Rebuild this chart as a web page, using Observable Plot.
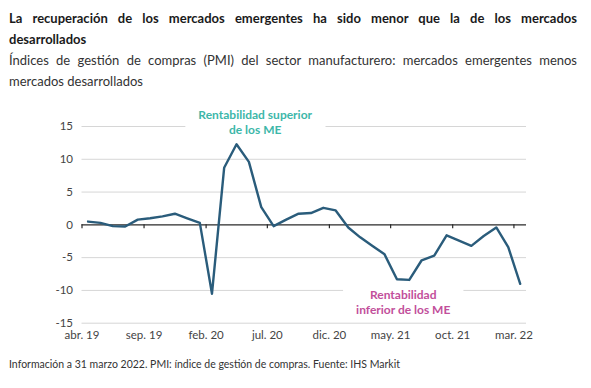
<!DOCTYPE html>
<html>
<head>
<meta charset="utf-8">
<script src="https://cdn.jsdelivr.net/npm/d3@7"></script>
<script src="https://cdn.jsdelivr.net/npm/@observablehq/plot@0.6"></script>
<style>
  html, body { margin: 0; padding: 0; background: #fff; width: 591px; height: 388px; overflow: hidden; }
  #header { position: absolute; left: 9px; top: 8px; width: 568px; font-family: Lato, "Open Sans", sans-serif; color: #1a1a1a; }
  #title { font-size: 13px; font-weight: 700; line-height: 21px; }
  #subtitle { font-size: 13px; font-weight: 400; line-height: 21px; color: #333; margin-top: 0px; }
  .j { text-align: justify; text-align-last: justify; }
  #chart { position: absolute; left: 0; top: 95px; }
  #note { position: absolute; left: 9px; top: 358px; font-family: Lato, "Open Sans", sans-serif; font-size: 10.5px; color: #333; }
</style>
</head>
<body>
<div id="header">
  <div id="title"><div class="j">La recuperación de los mercados emergentes ha sido menor que la de los mercados</div><div>desarrollados</div></div>
  <div id="subtitle"><div class="j">Índices de gestión de compras (PMI) del sector manufacturero: mercados emergentes menos</div><div>mercados desarrollados</div></div>
</div>
<div id="chart"></div>
<div id="note">Información a 31 marzo 2022. PMI: índice de gestión de compras. Fuente: IHS Markit</div>
<script>
// ---- data ----
const months = [
  "2019-04","2019-05","2019-06","2019-07","2019-08","2019-09","2019-10","2019-11","2019-12",
  "2020-01","2020-02","2020-03","2020-04","2020-05","2020-06","2020-07","2020-08","2020-09","2020-10","2020-11","2020-12",
  "2021-01","2021-02","2021-03","2021-04","2021-05","2021-06","2021-07","2021-08","2021-09","2021-10","2021-11","2021-12",
  "2022-01","2022-02","2022-03"
];
const values = [
  0.5, 0.3, -0.2, -0.25, 0.8, 1.0, 1.3, 1.7, 1.0,
  0.3, -10.5, 8.7, 12.3, 9.6, 2.7, -0.2, 0.8, 1.7, 1.8, 2.6, 2.2,
  -0.4, -1.9, -3.2, -4.5, -8.3, -8.4, -5.4, -4.7, -1.6, -2.4, -3.2, -1.7,
  -0.4, -3.4, -9.0
];
const tickMonths = ["2019-04","2019-09","2020-02","2020-07","2020-12","2021-05","2021-10","2022-03"];
const tickLabels = ["abr. 19","sep. 19","feb. 20","jul. 20","dic. 20","may. 21","oct. 21","mar. 22"];
const yTicks = [-15, -10, -5, 0, 5, 10, 15];
const annotLabels = ["Rentabilidad superior\nde los ME", "Rentabilidad\ninferior de los ME"];
const annotMonths = ["2020-06", "2021-06"];
const annotValues = [15.7, -11.7];
const annotColors = ["#3db7a9", "#c24f9b"];

// ---- build ----
const parse = d3.utcParse("%Y-%m");
const mid = m => { const s = parse(m); return new Date((+s + +d3.utcMonth.offset(s, 1)) / 2); };
const data = months.map((m, i) => ({date: mid(m), value: values[i]}));
const tickDates = tickMonths.map(parse);
const labelMap = new Map(tickDates.map((d, i) => [+d, tickLabels[i]]));
const annots = annotLabels.map((t, i) => ({text: t, date: parse(annotMonths[i]), value: annotValues[i], color: annotColors[i]}));
const xDomain = [parse(months[0]), d3.utcMonth.offset(parse(months[months.length - 1]), 1)];

const chart = Plot.plot({
  width: 591,
  height: 250,
  marginLeft: 81.5,
  marginRight: 65,
  marginTop: 31,
  marginBottom: 22.3,
  style: {fontFamily: "Lato, 'Open Sans', sans-serif", fontSize: "11.5px", color: "#444", background: "white", overflow: "visible"},
  x: {type: "utc", domain: xDomain},
  y: {domain: [-15, 15]},
  marks: [
    Plot.ruleY(yTicks.filter(d => d !== 0), {stroke: "#d6d6d6", strokeWidth: 1}),
    Plot.axisY({ticks: yTicks, tickSize: 0, tickPadding: 9, tickFormat: d => `${d}`, fill: "#444", label: null}),
    Plot.axisX({ticks: tickDates, tickSize: 0, tickPadding: 8, tickFormat: d => labelMap.get(+d), fill: "#444", label: null}),
    Plot.ruleY([0], {stroke: "#2a2a2a", strokeWidth: 1.2}),
    Plot.ruleX(tickDates, {x: d => d, y1: 0, y2: -0.6, stroke: "#2a2a2a", strokeWidth: 1.2}),
    Plot.text(annots, {x: "date", y: "value", text: "text", fill: "color", fontWeight: 700, fontSize: 12, lineHeight: 1.25, className: "annot"}),
    Plot.line(data, {x: "date", y: "value", stroke: "#2a5c7b", strokeWidth: 2.4, strokeLinejoin: "round", strokeLinecap: "round"})
  ]
});
document.getElementById("chart").appendChild(chart);

// white box behind annotations (interrupts gridlines like the original)
const svgRect = chart.getBoundingClientRect();
chart.querySelectorAll("g.annot").forEach(g => {
  g.querySelectorAll("text").forEach(t => {
    const b = t.getBoundingClientRect();
    const r = document.createElementNS("http://www.w3.org/2000/svg", "rect");
    r.setAttribute("x", b.left - svgRect.left - 13);
    r.setAttribute("y", b.top - svgRect.top - 1);
    r.setAttribute("width", b.width + 26);
    r.setAttribute("height", b.height + 2);
    r.setAttribute("fill", "white");
    g.parentNode.insertBefore(r, g);
  });
});
</script>
</body>
</html>
